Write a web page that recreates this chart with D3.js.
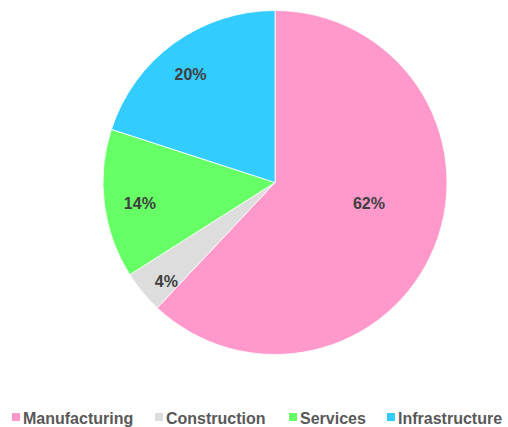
<!DOCTYPE html>
<html lang="en">
<head>
    <meta charset="UTF-8">
    <title>Sector Share Pie</title>
    <style>
        body { margin: 0; background: #fff; }
        svg { display: block; font-family: "Liberation Sans", Arial, sans-serif; }
    </style>
</head>
<body>
    <div id="content"></div>
    <script src="https://d3js.org/d3.v7.min.js"></script>
    <script>
        // chart values
        var categories = ["Manufacturing", "Construction", "Services", "Infrastructure"];
        var values = [62, 4, 14, 20];
        var colors = ["#ff99cc", "#dddddd", "#66ff66", "#33ccff"];

        var width = 508, height = 427;
        var cx = 275, cy = 182.5, radius = 172;

        var svg = d3.select("#content")
            .append("svg")
            .attr("width", width)
            .attr("height", height);

        var g = svg.append("g")
            .attr("transform", "translate(" + cx + "," + cy + ")");

        var pie = d3.pie().sort(null).value(function (d) { return d; });
        var arcs = pie(values);

        var arc = d3.arc().innerRadius(0).outerRadius(radius);

        g.selectAll("path")
            .data(arcs)
            .enter()
            .append("path")
            .attr("d", arc)
            .style("fill", function (d, i) { return colors[i]; })
            .style("stroke", "#fff")
            .style("stroke-width", 0.8);

        // label placement: thin slices push the label out toward the rim,
        // the big slice keeps it nearer the centre
        function labelPos(d) {
            var span = d.endAngle - d.startAngle;
            var a, rr;
            if (span > Math.PI) {
                a = d.startAngle + span * 0.46;
                rr = radius * 0.56;
            } else if (d.data < 5) {
                a = d.startAngle + span * 0.3;
                rr = radius * 0.856;
            } else {
                a = d.startAngle + span * 0.47;
                rr = radius * 0.795;
            }
            return [rr * Math.sin(a), -rr * Math.cos(a)];
        }

        g.selectAll("text.lbl")
            .data(arcs)
            .enter()
            .append("text")
            .attr("class", "lbl")
            .attr("x", function (d) { return labelPos(d)[0]; })
            .attr("y", function (d) { return labelPos(d)[1]; })
            .attr("text-anchor", "middle")
            .attr("dominant-baseline", "central")
            .style("font-size", "16px")
            .style("font-weight", "bold")
            .style("fill", "#404040")
            .text(function (d) { return d.data + "%"; });

        // legend along the bottom
        var legendX = d3.scaleOrdinal()
            .domain(categories)
            .range([12, 155, 289, 387]);

        var legend = svg.append("g")
            .selectAll("g")
            .data(categories)
            .enter()
            .append("g")
            .attr("transform", function (d) { return "translate(" + legendX(d) + ",413)"; });

        legend.append("rect")
            .attr("width", 8)
            .attr("height", 8)
            .style("fill", function (d, i) { return colors[i]; });

        legend.append("text")
            .attr("x", 11)
            .attr("y", 10.5)
            .style("font-size", "16px")
            .style("font-weight", "bold")
            .style("fill", "#595959")
            .text(function (d) { return d; });
    </script>
</body>
</html>
